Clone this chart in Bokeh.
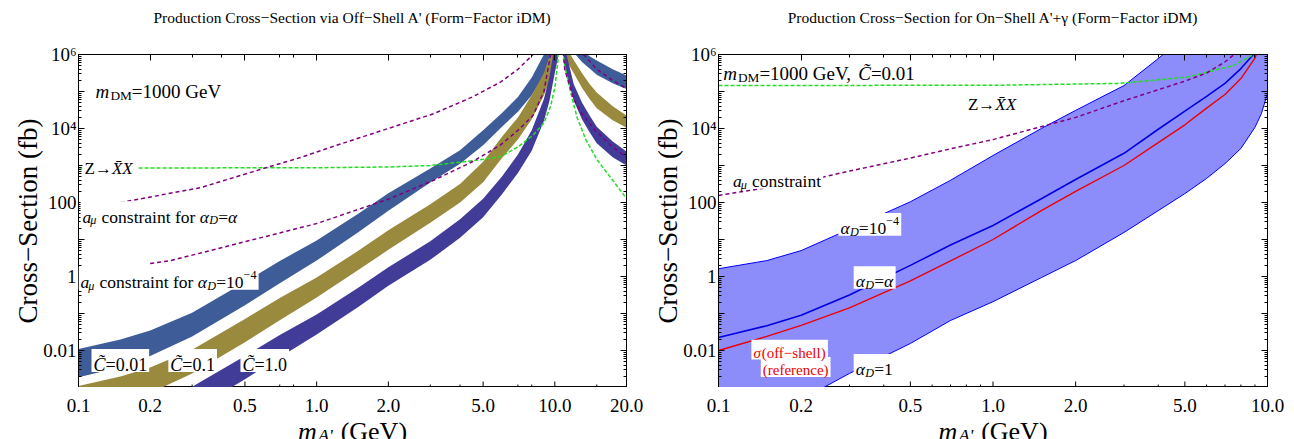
import math
from bokeh.plotting import figure
from bokeh.models import Label, LogAxis, FixedTicker, Range1d, CustomJSTickFormatter, BoxAnnotation
from bokeh.core.properties import value
from bokeh.layouts import row, column
from bokeh.embed import file_html
from bokeh.resources import INLINE

FONT = "Liberation Serif"

# ---------------- Left panel: off-shell A' (values are log10 of sigma in fb) ----------------
mA_L = [0.1, 0.15, 0.2, 0.3, 0.5, 0.7, 1.0, 1.5, 2.0, 3.0, 4.0, 5.0, 6.0, 7.0, 8.0, 9.0, 9.5, 10.0, 10.3, 10.58,
        10.9, 11.5, 12.0, 13.0, 14.0, 15.0, 17.5, 20.0]
c001_hi = [-1.96, -1.70, -1.46, -0.98, -0.15, 0.42, 0.97, 1.70, 2.25, 2.92, 3.41, 3.95, 4.42, 4.85, 5.38, 6.0, 6.5, 7.3, 8.0, 9.0,
           8.0, 7.0, 6.6, 6.12, 5.95, 5.84, 5.6, 5.43]
c001_lo = [-2.72, -2.45, -2.15, -1.62, -0.78, -0.18, 0.43, 1.2, 1.78, 2.54, 3.05, 3.55, 4.05, 4.45, 4.9, 5.45, 5.72, 5.95, 6.5, 9.0,
           7.0, 6.4, 6.06, 5.8, 5.62, 5.45, 5.22, 5.07]
c01_hi = [-2.96, -2.70, -2.46, -1.98, -1.15, -0.58, -0.03, 0.70, 1.25, 1.95, 2.5, 3.1, 3.78, 4.3, 4.9, 5.5, 5.95, 6.6, 7.3, 9.0,
          6.5, 6.05, 5.85, 5.5, 5.2, 4.97, 4.6, 4.35]
c01_lo = [-3.72, -3.45, -3.15, -2.62, -1.78, -1.18, -0.57, 0.18, 0.72, 1.45, 2.0, 2.55, 3.2, 3.7, 4.25, 4.9, 5.3, 5.8, 6.1, 9.0,
          6.0, 5.7, 5.5, 5.1, 4.8, 4.55, 4.22, 4.02]
c1_hi = [-3.96, -3.70, -3.46, -2.98, -2.15, -1.58, -1.03, -0.30, 0.25, 0.95, 1.55, 2.1, 2.7, 3.3, 3.95, 4.8, 5.4, 6.3, 7.2, 9.0,
         6.3, 5.7, 5.2, 4.7, 4.35, 4.05, 3.65, 3.38]
c1_lo = [-4.72, -4.45, -4.15, -3.62, -2.78, -2.18, -1.57, -0.82, -0.25, 0.45, 1.05, 1.6, 2.22, 2.8, 3.4, 4.2, 4.75, 5.5, 5.9, 9.0,
         5.8, 5.2, 4.76, 4.25, 3.9, 3.6, 3.22, 3.0]

mA_ZL = [0.1, 1.0, 2.0, 3.0, 4.7, 5.93, 7.0, 8.1, 9.0, 9.6, 10.0, 10.3, 10.58, 10.8, 11.0, 11.6, 12.4, 13.5, 15.1, 17.5, 20.0]
Z_L = [2.93, 2.94, 2.96, 3.0, 3.14, 3.24, 3.5, 3.82, 4.15, 4.6, 5.1, 5.8, 9.0, 6.2, 5.7, 5.03, 4.3, 3.7, 3.14, 2.6, 2.11]

mA_P1 = [0.15, 0.325, 0.62, 0.86, 1.14, 1.64, 3.1, 4.5, 5.9, 7.0, 8.1, 9.0, 10.58, 11.5, 12.5, 13.2, 15.0, 17.5, 20.0]
amu_alpha = [2.0, 2.4, 2.95, 3.22, 3.49, 3.82, 4.4, 4.85, 5.25, 5.6, 6.0, 6.6, 9.0, 7.0, 6.3, 6.0, 5.6, 5.3, 5.08]
mA_P2 = [0.2, 0.244, 0.5, 1.0, 2.0, 3.1, 4.5, 5.9, 7.0, 8.1, 9.0, 9.6, 10.0, 10.58, 10.8, 11.0, 12.0, 13.0, 15.0, 17.5, 20.0]
amu_1e4 = [0.35, 0.43, 0.94, 1.43, 2.09, 2.6, 3.1, 3.55, 3.95, 4.35, 5.0, 6.0, 7.0, 9.0, 6.3, 5.6, 4.8, 4.4, 3.9, 3.5, 3.22]

# ---------------- Right panel: on-shell A' + gamma ----------------
mA_R = [0.1, 0.15, 0.2, 0.3, 0.5, 0.7, 1.0, 1.5, 2.0, 3.0, 4.0, 5.0, 6.0, 7.0, 8.0, 9.0, 9.5, 10.0]
aD_1e4 = [0.21, 0.43, 0.70, 1.28, 2.02, 2.6, 3.27, 4.0, 4.49, 5.16, 5.89, 6.5, 7.0, 7.4, 7.8, 8.2, 8.4, 8.6]
aD_1 = [-4.5, -3.85, -3.33, -2.62, -1.81, -1.19, -0.68, -0.03, 0.43, 1.19, 1.78, 2.24, 2.65, 3.05, 3.46, 4.03, 4.4, 4.95]
aD_alpha = [-1.65, -1.33, -1.05, -0.5, 0.3, 0.85, 1.38, 2.1, 2.62, 3.33, 3.98, 4.47, 4.87, 5.22, 5.62, 6.05, 6.5, 7.0]
off_shell = [-2.0, -1.62, -1.32, -0.85, -0.12, 0.42, 1.0, 1.78, 2.3, 3.0, 3.62, 4.1, 4.55, 4.92, 5.35, 5.9, 6.4, 7.0]
mA_ZR = [0.1, 1.06, 2.91, 5.1, 7.5, 8.9, 10.0]
Z_R = [5.16, 5.17, 5.22, 5.39, 5.7, 6.0, 6.4]
mA_PR = [0.1, 0.2, 0.3, 0.5, 0.7, 1.0, 2.0, 3.0, 5.0, 6.0, 7.0, 8.0]
amu_R = [2.19, 2.55, 2.85, 3.2, 3.45, 3.7, 4.3, 4.75, 5.28, 5.5, 5.8, 6.15]

# ---------------- ticks ----------------
y_major = [1e-3, 1e-2, 1e-1, 1, 10, 100, 1e3, 1e4, 1e5, 1e6]
y_minor = [k * 10.0 ** e for e in range(-3, 6) for k in range(2, 10)]
xL_major = [0.1, 0.2, 0.5, 1.0, 2.0, 5.0, 10.0, 20.0]
xL_labels = ["0.1", "0.2", "0.5", "1.0", "2.0", "5.0", "10.0", "20.0"]
xL_minor = [0.3, 0.4, 0.7, 0.8, 3.0, 4.0, 7.0, 8.0, 15.0]
xR_major = [0.1, 0.2, 0.5, 1.0, 2.0, 5.0, 10.0]
xR_labels = ["0.1", "0.2", "0.5", "1.0", "2.0", "5.0", "10.0"]
xR_minor = [0.3, 0.4, 0.6, 0.7, 0.8, 0.9, 3.0, 4.0, 6.0, 7.0, 8.0, 9.0]

FW_L, FW_R, FH = 548, 549, 333
BL, BR_L, BR_R = 78, 14, 27
TOP_STRIP = 40
BOT_STRIP = 52
YPD = FH / 9.0  # pixels per decade (y)


def V(a):
    return [10.0 ** v for v in a]


WID = {' ': 250, '\u00a0': 250, '(': 333, ')': 333, ',': 250, '.': 250, '\u2212': 564, '-': 333, '=': 564,
       '\u2192': 1000, "'": 180, 'A': 722, 'C': 667, 'D': 722, 'G': 722, 'M': 889, 'V': 722, 'X': 722, 'Z': 611,
       'S': 556, 'O': 722, 'F': 556, 'a': 444, 'b': 500, 'c': 444, 'd': 500, 'e': 444, 'f': 333, 'h': 500,
       'i': 278, 'l': 278, 'm': 778, 'n': 500, 'o': 500, 'r': 333, 's': 389, 't': 278, 'u': 500, 'v': 500,
       '\u03b1': 550, '\u03bc': 560, '\u03c3': 550, '\u0303': 0, '\u0304': 0}


def text_w(s, size):
    return sum(WID.get(c, 500) for c in s) / 1000.0 * size


def nb(s):
    n0 = len(s) - len(s.lstrip(' '))
    n1 = len(s) - len(s.rstrip(' '))
    core = s.strip(' ')
    return '\u00a0' * n0 + core + '\u00a0' * n1


def rich(p, x, y, segs, size, units="data", align="left", color="black", bg=False, xpd=None):
    widths = [text_w(t, size * sc) for (t, st, sc, dy) in segs]
    total = sum(widths)
    off = 0.0 if align == "left" else -total / 2.0
    if bg:
        pad = 2.0
        p.add_layout(BoxAnnotation(left=x * 10 ** ((off - pad) / xpd), right=x * 10 ** ((off + total + pad) / xpd),
                                   bottom=y / 10 ** ((0.30 * size + pad) / YPD), top=y * 10 ** ((0.76 * size + pad) / YPD),
                                   fill_color="white", fill_alpha=1.0, line_color=None))
    for (t, st, sc, dy), w in zip(segs, widths):
        p.add_layout(Label(x=x, y=y, x_units=units, y_units=units, x_offset=off, y_offset=dy * size, text=nb(t),
                           text_font=FONT, text_font_size="%.1fpx" % (size * sc), text_font_style=st,
                           text_color=color, text_align="left", text_baseline="alphabetic"))
        off += w


def style_axis(ax):
    ax.axis_line_color = "black"
    ax.major_tick_line_color = "black"
    ax.minor_tick_line_color = "black"
    ax.major_tick_in = 6
    ax.major_tick_out = 0
    ax.minor_tick_in = 3
    ax.minor_tick_out = 0
    ax.major_label_text_font = FONT
    ax.major_label_text_font_size = "19px"
    ax.major_label_text_font_style = "normal"
    ax.major_label_text_color = "black"
    ax.major_label_standoff = 2


def bare_axis(ax):
    ax.major_label_text_font_size = "1px"
    ax.major_label_standoff = 0
    ax.axis_label_standoff = 0


Y_FMT = """
const e = Math.round(Math.log10(tick));
if (e % 2 !== 0) return "";
if (e === 6) return "10\u2076";
if (e === 4) return "10\u2074";
if (e >= 0) return String(Math.pow(10, e));
return tick.toFixed(-e);
"""


def make_fig(xmax, fw, br, xmaj, xmin):
    # x axis sits on top (mirror ticks); the bottom edge gets its tick marks as short screen-length rays,
    # so that nothing below the frame takes height and the label strip starts right at the frame
    p = figure(x_axis_type="log", y_axis_type="log", x_range=Range1d(0.1, xmax), y_range=Range1d(1e-3, 1e6),
               x_axis_location="above",
               frame_width=fw, frame_height=FH, min_border_left=BL, min_border_right=br,
               min_border_top=54 - TOP_STRIP, min_border_bottom=0,
               toolbar_location=None, output_backend="svg")
    p.title.visible = False
    p.xgrid.visible = False
    p.ygrid.visible = False
    p.outline_line_color = "black"
    p.background_fill_color = "white"
    p.border_fill_color = "white"
    xt = FixedTicker(ticks=xmaj, minor_ticks=xmin)
    yt = FixedTicker(ticks=y_major, minor_ticks=y_minor)
    empty = CustomJSTickFormatter(code="return '';")
    p.xaxis.ticker = xt
    p.yaxis.ticker = yt
    p.yaxis.formatter = CustomJSTickFormatter(code=Y_FMT)
    xa = p.xaxis[0]
    style_axis(xa)
    xa.formatter = empty
    bare_axis(xa)
    style_axis(p.yaxis[0])
    ya = p.yaxis[0]
    ya.axis_label = "Cross\u2212Section (fb)"
    ya.axis_label_text_font = FONT
    ya.axis_label_text_font_size = "27px"
    ya.axis_label_text_font_style = "normal"
    ya.axis_label_text_color = "black"
    ya.axis_label_standoff = -3
    ar = LogAxis(ticker=yt, formatter=empty)
    style_axis(ar)
    bare_axis(ar)
    p.add_layout(ar, "right")
    p.ray(x=xmaj, y=[1e-3] * len(xmaj), length=6, angle=math.pi / 2, length_units="screen",
          line_color="black", line_width=1)
    p.ray(x=xmin, y=[1e-3] * len(xmin), length=3, angle=math.pi / 2, length_units="screen",
          line_color="black", line_width=1)
    return p


def strip(width, height, **kw):
    s = figure(width=width, height=height, y_range=Range1d(0, height),
               min_border=0, toolbar_location=None, output_backend="svg",
               x_axis_location=None, y_axis_location=None, **kw)
    s.title.visible = False
    s.min_border_left = 0
    s.min_border_right = 0
    s.min_border_top = 0
    s.min_border_bottom = 0
    s.outline_line_color = None
    s.xgrid.visible = False
    s.ygrid.visible = False
    s.background_fill_color = "white"
    s.border_fill_color = "white"
    return s


def title_strip(width, fw, text):
    s = strip(width, TOP_STRIP, x_range=Range1d(0, width))
    s.add_layout(Label(x=BL + fw / 2.0, y=TOP_STRIP - 17, x_units="screen", y_units="screen", text=text,
                       text_align="center", text_baseline="middle", text_font=FONT,
                       text_font_size="15.5px", text_color="black"))
    return s


def bottom_strip(width, left, fw, xmin, xmax, ticks, labels):
    # strip below a panel: its log scale is the panel's scale, extended over the strip's margins
    xpd = fw / math.log10(xmax / xmin)
    right = width - left - fw
    s = strip(width, BOT_STRIP, x_axis_type="log",
              x_range=Range1d(xmin / 10 ** (left / xpd), xmax * 10 ** (right / xpd)))
    top0 = 387                    # page y of the strip's top edge
    s.text(x=ticks, y=[BOT_STRIP - (405 - top0)] * len(ticks), text=labels, text_align="center",
           text_baseline="alphabetic", text_font=value(FONT), text_font_size="19px", text_color="black")
    rich(s, left + fw / 2.0, BOT_STRIP - (431 - top0),
         [("m", "italic", 1.0, 0), ("A'", "italic", 0.68, -0.14), (" (GeV)", "normal", 1.0, 0)],
         26, units="screen", align="center")
    return s


WL = BL + FW_L + BR_L
WR = BL + FW_R + BR_R

# ---------------- left figure ----------------
p1 = make_fig(20.0, FW_L, BR_L, xL_major, xL_minor)
XPD_L = FW_L / 2.30103
p1.varea(x=mA_L, y1=V(c001_lo), y2=V(c001_hi), fill_color="#3D5C98")
p1.varea(x=mA_L, y1=V(c01_lo), y2=V(c01_hi), fill_color="#9A8A3E")
p1.varea(x=mA_L, y1=V(c1_lo), y2=V(c1_hi), fill_color="#413C98")
p1.line(mA_ZL, V(Z_L), line_color="#22DD22", line_width=1.5, line_dash="4 2")
p1.line(mA_P1, V(amu_alpha), line_color="#800080", line_width=1.5, line_dash="4 3")
p1.line(mA_P2, V(amu_1e4), line_color="#800080", line_width=1.5, line_dash="4 3")

rich(p1, 0.118, 1e5, [("m", "italic", 1.0, 0), ("DM", "normal", 0.7, -0.22), ("=1000 GeV", "normal", 1.0, 0)], 19)
rich(p1, 0.106, 10 ** 2.93, [("Z\u2192", "normal", 1.0, 0), ("X\u0304X", "italic", 1.0, 0)], 17, bg=True, xpd=XPD_L)
rich(p1, 0.104, 10 ** 1.62, [("a", "italic", 1.0, 0), ("\u03bc", "italic", 0.7, -0.22), (" constraint for ", "normal", 1.0, 0),
                             ("\u03b1", "italic", 1.0, 0), ("D", "italic", 0.7, -0.22), ("=", "normal", 1.0, 0),
                             ("\u03b1", "italic", 1.0, 0)], 17.5, bg=True, xpd=XPD_L)
rich(p1, 0.102, 10 ** -0.16, [("a", "italic", 1.0, 0), ("\u03bc", "italic", 0.7, -0.22), (" constraint for ", "normal", 1.0, 0),
                              ("\u03b1", "italic", 1.0, 0), ("D", "italic", 0.7, -0.22), ("=10", "normal", 1.0, 0),
                              ("\u22124", "normal", 0.7, 0.42)], 17.5, bg=True, xpd=XPD_L)
rich(p1, 0.1156, 10 ** -2.38, [("C\u0303", "italic", 1.0, 0), ("=0.01", "normal", 1.0, 0)], 18, bg=True, xpd=XPD_L)
rich(p1, 0.243, 10 ** -2.38, [("C\u0303", "italic", 1.0, 0), ("=0.1", "normal", 1.0, 0)], 18, bg=True, xpd=XPD_L)
rich(p1, 0.488, 10 ** -2.38, [("C\u0303", "italic", 1.0, 0), ("=1.0", "normal", 1.0, 0)], 18, bg=True, xpd=XPD_L)

# ---------------- right figure ----------------
p2 = make_fig(10.0, FW_R, BR_R, xR_major, xR_minor)
XPD_R = FW_R / 2.0
p2.varea(x=mA_R, y1=V(aD_1), y2=V(aD_1e4), fill_color="#8C8CFA")
p2.line(mA_R, V(aD_1), line_color="#0000FF", line_width=1)
p2.line(mA_R, V(aD_1e4), line_color="#0000FF", line_width=1)
p2.line(mA_R, V(aD_alpha), line_color="#0000E0", line_width=1.6)
p2.line(mA_R, V(off_shell), line_color="#EE0000", line_width=1.4)
p2.line(mA_ZR, V(Z_R), line_color="#22DD22", line_width=1.5, line_dash="4 2")
p2.line(mA_PR, V(amu_R), line_color="#800080", line_width=1.5, line_dash="4 3")

rich(p2, 0.104, 10 ** 5.49, [("m", "italic", 1.0, 0), ("DM", "normal", 0.7, -0.22), ("=1000 GeV, ", "normal", 1.0, 0),
                             ("C\u0303", "italic", 1.0, 0), ("=0.01", "normal", 1.0, 0)], 19)
rich(p2, 0.81, 10 ** 4.65, [("Z\u2192", "normal", 1.0, 0), ("X\u0304X", "italic", 1.0, 0)], 17)
rich(p2, 0.113, 10 ** 2.57, [("a", "italic", 1.0, 0), ("\u03bc", "italic", 0.7, -0.22), (" constraint", "normal", 1.0, 0)],
     17.5, bg=True, xpd=XPD_R)
rich(p2, 0.278, 10 ** 1.30, [("\u03b1", "italic", 1.0, 0), ("D", "italic", 0.7, -0.22), ("=10", "normal", 1.0, 0),
                             ("\u22124", "normal", 0.7, 0.42)], 17.5, bg=True, xpd=XPD_R)
rich(p2, 0.316, 10 ** -0.135, [("\u03b1", "italic", 1.0, 0), ("D", "italic", 0.7, -0.22), ("=", "normal", 1.0, 0),
                               ("\u03b1", "italic", 1.0, 0)], 17.5, bg=True, xpd=XPD_R)
rich(p2, 0.145, 10 ** -2.54, [("(reference)", "normal", 1.0, 0)], 15, color="#EE0000", bg=True, xpd=XPD_R)
rich(p2, 0.134, 10 ** -2.07, [("\u03c3", "italic", 1.0, 0), ("(off\u2212shell)", "normal", 1.0, 0)], 15,
     color="#EE0000", bg=True, xpd=XPD_R)
rich(p2, 0.316, 10 ** -2.51, [("\u03b1", "italic", 1.0, 0), ("D", "italic", 0.7, -0.22), ("=1", "normal", 1.0, 0)],
     17.5, bg=True, xpd=XPD_R)

t1 = title_strip(WL, FW_L, "Production Cross\u2212Section via Off\u2212Shell A' (Form\u2212Factor iDM)")
t2 = title_strip(WR, FW_R, "Production Cross\u2212Section for On\u2212Shell A'+\u03b3 (Form\u2212Factor iDM)")
# the bottom strips are split so that "20.0" under the left panel has room to the right
WLB = WL + 12
WRB = WR - 12
b1 = bottom_strip(WLB, BL, FW_L, 0.1, 20.0, xL_major, xL_labels)
b2 = bottom_strip(WRB, BL - 12, FW_R, 0.1, 10.0, xR_major, xR_labels)

layout = column(row(t1, t2), row(p1, p2), row(b1, b2))
open("out.html", "w").write(file_html(layout, INLINE))
